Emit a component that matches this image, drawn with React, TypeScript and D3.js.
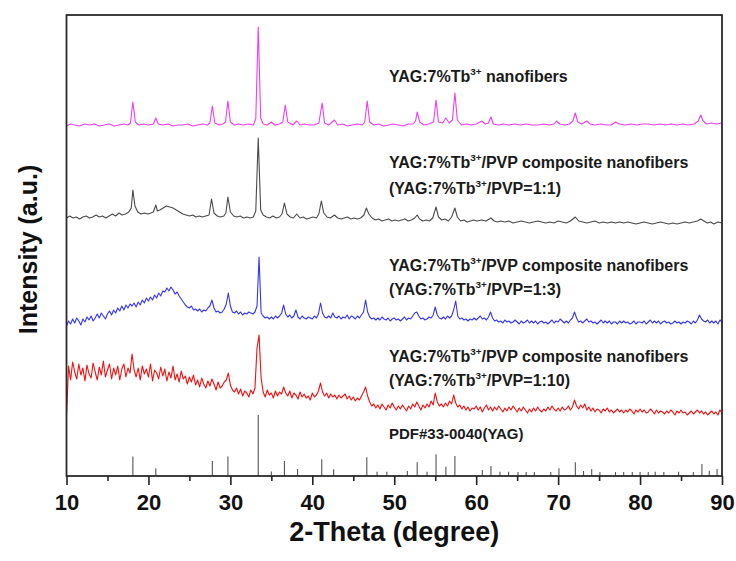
import { useEffect, useMemo, useRef } from 'react';
import * as d3 from 'd3';

// XRD patterns, stacked. Intensities are in arbitrary units, offsets already included.

const WIDTH = 736;
const HEIGHT = 561;
const MARGIN = { top: 15, right: 14, bottom: 85, left: 66.5 };
const FONT = "'Liberation Sans', Arial, Helvetica, sans-serif";

const X_DOMAIN = [10, 90];
const Y_DOMAIN = [0, 461];
const X_TICKS = [10, 20, 30, 40, 50, 60, 70, 80, 90];
const X_MINOR = [15, 25, 35, 45, 55, 65, 75, 85];

// YAG:7%Tb3+ nanofibers (magenta)
const yagFibers: [number, number][] = [
  [10, 350], [10.5, 352], [11, 351], [11.6, 350], [12.2, 352], [12.8, 351], [13.4, 352], [14, 350],
  [14.6, 351], [15.2, 352], [15.8, 350], [16.4, 351], [17, 352], [17.5, 351], [17.8, 353], [18.1, 374],
  [18.4, 354], [18.8, 351], [19.4, 352], [20, 351], [20.6, 352], [20.9, 358], [21.2, 352], [21.8, 351],
  [22.4, 352], [23, 350], [23.6, 351], [24.2, 351], [24.8, 352], [25.4, 350], [26, 351], [26.6, 352],
  [27.2, 351], [27.5, 353], [27.8, 370], [28.1, 353], [28.6, 351], [29.1, 352], [29.4, 354], [29.7, 375],
  [30, 354], [30.5, 351], [31, 352], [31.6, 351], [32.2, 352], [32.8, 351], [33.1, 357], [33.4, 449],
  [33.7, 358], [34, 352], [34.5, 351], [35, 354], [35.4, 351], [36, 352], [36.4, 354], [36.7, 371],
  [37, 354], [37.6, 351], [38.1, 355], [38.5, 351], [39, 352], [39.6, 351], [40.2, 351], [40.8, 353],
  [41.2, 373], [41.5, 353], [42, 351], [42.7, 356], [43.1, 351], [43.7, 352], [44.3, 350], [44.9, 351],
  [45.5, 352], [46.1, 351], [46.4, 354], [46.7, 375], [47, 354], [47.5, 351], [48.1, 352], [48.7, 350],
  [49.3, 351], [49.9, 352], [50.5, 351], [51.1, 350], [51.7, 352], [52.3, 352], [52.6, 355], [52.8, 364],
  [53.1, 354], [53.6, 351], [54.2, 352], [54.8, 354], [55.1, 376], [55.4, 354], [55.9, 353], [56.3, 358],
  [56.7, 353], [57.1, 356], [57.4, 383], [57.7, 356], [58.2, 351], [58.8, 352], [59.4, 351], [60, 352],
  [60.7, 355], [61.1, 352], [61.5, 353], [61.8, 359], [62.1, 352], [62.7, 351], [63.3, 352], [64, 351],
  [64.7, 352], [65.4, 351], [66.1, 352], [66.8, 351], [67.5, 351], [68.2, 352], [68.9, 351], [69.5, 352],
  [69.8, 355], [70.2, 352], [70.8, 351], [71.4, 352], [71.8, 355], [72.1, 363], [72.4, 354], [72.9, 352],
  [73.5, 355], [73.9, 352], [74.5, 351], [75.2, 352], [75.9, 351], [76.5, 351], [77, 354], [77.5, 352],
  [78.2, 351], [78.9, 352], [79.6, 351], [80.3, 352], [81, 352], [81.7, 351], [82.4, 352], [83.1, 351],
  [83.8, 352], [84.5, 351], [85.2, 352], [85.9, 351], [86.6, 352], [87.1, 355], [87.4, 361], [87.7, 355],
  [88.1, 352], [88.7, 353], [89.3, 352], [90, 353],
];

// YAG:7%Tb3+/PVP = 1:1 (gray)
const pvp1to1: [number, number][] = [
  [10, 258], [10.4, 260], [10.8, 258], [11.2, 259], [11.6, 257], [12, 259], [12.4, 260], [12.8, 258],
  [13.2, 259], [13.6, 261], [14, 259], [14.4, 260], [14.8, 258], [15.2, 260], [15.6, 262], [16, 260],
  [16.4, 263], [16.8, 261], [17.2, 262], [17.6, 264], [17.9, 268], [18.1, 286], [18.35, 270], [18.7, 264],
  [19.1, 262], [19.5, 263], [19.9, 262], [20.3, 263], [20.6, 264], [20.9, 271], [21.1, 265], [21.4, 266],
  [21.8, 268], [22.2, 270], [22.6, 269], [23, 268], [23.4, 266], [23.8, 264], [24.2, 262], [24.6, 261],
  [25, 260], [25.4, 261], [25.8, 259], [26.2, 260], [26.6, 259], [27, 260], [27.4, 261], [27.7, 277],
  [28, 263], [28.4, 260], [28.8, 259], [29.2, 260], [29.45, 263], [29.7, 279], [30, 264], [30.4, 260],
  [30.8, 259], [31.2, 260], [31.6, 258], [32, 259], [32.4, 258], [32.8, 259], [33.1, 265], [33.4, 338],
  [33.7, 266], [34, 261], [34.4, 259], [34.8, 258], [35.2, 260], [35.6, 258], [36, 259], [36.3, 262],
  [36.6, 273], [36.9, 262], [37.3, 259], [37.7, 258], [38.1, 262], [38.5, 258], [38.9, 259], [39.3, 257],
  [39.7, 258], [40.1, 259], [40.5, 258], [40.8, 262], [41.1, 275], [41.4, 263], [41.8, 259], [42.2, 258],
  [42.7, 261], [43.1, 258], [43.5, 257], [43.9, 258], [44.3, 259], [44.7, 257], [45.1, 258], [45.5, 257],
  [45.9, 258], [46.3, 261], [46.6, 268], [46.9, 262], [47.3, 258], [47.7, 256], [48.1, 257], [48.5, 255],
  [48.9, 256], [49.3, 257], [49.7, 255], [50.1, 256], [50.5, 255], [50.9, 256], [51.3, 257], [51.7, 255],
  [52.1, 256], [52.5, 258], [52.8, 261], [53.1, 257], [53.5, 255], [53.9, 256], [54.3, 255], [54.7, 258],
  [55.1, 269], [55.4, 259], [55.8, 256], [56.2, 257], [56.6, 255], [57, 259], [57.4, 268], [57.7, 259],
  [58.1, 255], [58.5, 256], [58.9, 254], [59.3, 255], [59.7, 256], [60.1, 255], [60.7, 256], [61.2, 255],
  [61.8, 258], [62.2, 255], [62.6, 254], [63, 255], [63.5, 254], [64, 255], [64.5, 253], [65, 254],
  [65.5, 255], [66, 254], [66.5, 253], [67, 254], [67.5, 255], [68, 254], [68.5, 253], [69, 254],
  [69.5, 253], [70, 255], [70.5, 254], [71, 253], [71.5, 255], [72.1, 259], [72.5, 255], [73, 254],
  [73.5, 253], [74, 254], [74.5, 255], [75, 253], [75.5, 254], [76, 253], [76.5, 254], [77, 253],
  [77.5, 254], [78, 253], [78.5, 254], [79, 253], [79.5, 252], [80, 253], [80.5, 254], [81, 253],
  [81.5, 252], [82, 253], [82.5, 254], [83, 253], [83.5, 252], [84, 253], [84.5, 252], [85, 253],
  [85.5, 254], [86, 253], [86.5, 254], [87, 255], [87.4, 257], [87.8, 255], [88.2, 253], [88.6, 254],
  [89, 252], [89.5, 254], [90, 253],
];

// the 1:3 and 1:10 scans were recorded on a 0.25 degree step, starting at 10
const SCAN_START = 10;
const SCAN_STEP = 0.25;

// YAG:7%Tb3+/PVP = 1:3 (blue)
const pvp1to3 = [
  150, 155, 152, 157, 153, 158, 155, 151, 157, 154, 159, 156, 160, 155, 158, 162,
  158, 163, 160, 157, 162, 165, 161, 166, 163, 168, 165, 170, 166, 171, 168, 172,
  170, 173, 169, 174, 171, 176, 173, 178, 175, 179, 176, 181, 178, 183, 180, 185,
  184, 188, 185, 189, 186, 182, 184, 180, 177, 174, 171, 169, 168, 170, 166, 167,
  165, 167, 164, 166, 165, 168, 170, 176, 168, 164, 165, 163, 164, 167, 172, 183,
  170, 164, 163, 165, 162, 164, 161, 163, 162, 164, 163, 162, 164, 170, 219, 163,
  160, 158, 159, 157, 159, 157, 160, 158, 160, 163, 171, 162, 159, 161, 158, 160,
  166, 159, 157, 160, 158, 157, 159, 158, 157, 160, 158, 162, 173, 163, 159, 158,
  160, 158, 163, 159, 158, 160, 157, 159, 158, 161, 157, 160, 159, 157, 160, 158,
  161, 164, 176, 164, 159, 157, 158, 156, 158, 156, 159, 157, 156, 158, 155, 157,
  158, 156, 157, 155, 157, 159, 156, 158, 157, 160, 163, 164, 160, 157, 158, 156,
  157, 159, 158, 161, 169, 161, 158, 157, 159, 157, 160, 158, 160, 166, 175, 160,
  157, 158, 156, 157, 155, 157, 156, 158, 156, 158, 160, 157, 158, 156, 159, 164,
  158, 155, 156, 154, 155, 153, 156, 154, 155, 153, 154, 156, 154, 152, 155, 153,
  154, 156, 153, 155, 153, 155, 152, 154, 155, 153, 154, 152, 154, 156, 153, 155,
  154, 157, 155, 153, 155, 153, 156, 158, 164, 158, 154, 155, 153, 155, 157, 154,
  155, 153, 154, 152, 154, 156, 153, 155, 153, 155, 152, 154, 154, 152, 155, 153,
  155, 153, 154, 152, 153, 155, 152, 154, 154, 153, 155, 152, 154, 156, 153, 155,
  153, 155, 152, 154, 155, 153, 154, 152, 153, 155, 153, 154, 152, 154, 153, 155,
  154, 152, 155, 153, 156, 161, 157, 155, 154, 156, 153, 155, 153, 155, 152, 156,
  154,
];

// YAG:7%Tb3+/PVP = 1:10 (red)
const pvp1to10 = [
  60, 110, 96, 114, 104, 97, 112, 101, 108, 95, 111, 102, 98, 113, 104, 96,
  109, 101, 115, 99, 106, 112, 97, 108, 101, 110, 96, 107, 112, 99, 108, 103,
  122, 106, 99, 108, 96, 110, 102, 107, 99, 112, 95, 106, 103, 97, 109, 100,
  107, 95, 104, 98, 110, 96, 102, 94, 105, 97, 100, 92, 99, 94, 101, 91,
  96, 89, 98, 92, 88, 95, 90, 97, 92, 86, 94, 88, 90, 94, 96, 103,
  91, 86, 84, 88, 82, 87, 80, 85, 83, 79, 86, 82, 88, 128, 141, 98,
  84, 79, 86, 81, 83, 78, 85, 80, 84, 82, 89, 83, 80, 85, 78, 83,
  81, 77, 84, 79, 82, 78, 80, 76, 83, 79, 81, 85, 93, 84, 80, 83,
  78, 82, 79, 81, 77, 81, 78, 80, 82, 77, 80, 76, 79, 75, 78, 76,
  80, 84, 89, 80, 74, 70, 72, 68, 71, 67, 72, 69, 66, 71, 68, 73,
  69, 66, 70, 67, 71, 68, 65, 70, 67, 72, 69, 74, 70, 66, 71, 68,
  72, 69, 75, 71, 83, 74, 70, 72, 69, 73, 70, 75, 72, 81, 73, 69,
  71, 67, 70, 66, 69, 65, 68, 67, 70, 66, 69, 64, 68, 71, 66, 69,
  65, 69, 66, 70, 67, 64, 68, 65, 69, 66, 70, 67, 64, 68, 65, 69,
  66, 63, 67, 64, 68, 65, 69, 66, 64, 67, 65, 69, 66, 70, 67, 65,
  68, 65, 69, 66, 67, 70, 66, 69, 76, 70, 67, 71, 68, 72, 66, 69,
  65, 68, 64, 67, 66, 63, 67, 65, 68, 64, 66, 63, 65, 67, 64, 66,
  63, 66, 64, 67, 65, 62, 66, 64, 67, 64, 66, 63, 64, 67, 65, 62,
  66, 63, 65, 64, 62, 65, 63, 66, 64, 61, 65, 63, 66, 63, 64, 61,
  63, 65, 62, 64, 66, 63, 65, 62, 64, 61, 63, 65, 62, 64, 61, 66,
  63,
];

// PDF#33-0040 reference lines: position (2θ) and relative height
const pdfPositions = [
  18.1, 20.9, 27.8, 29.7, 33.4, 35.0, 36.6, 38.2, 41.15, 42.6, 46.65, 47.9, 49.1, 51.6, 52.8, 54.0,
  55.1, 56.3, 57.4, 60.75, 61.8, 62.9, 63.95, 65.1, 66.1, 67.1, 69.1, 70.1, 72.1, 73.1, 74.1, 75.1,
  77.0, 78.0, 79.05, 80.0, 81.0, 81.85, 82.9, 84.7, 86.5, 87.55, 88.45, 89.4,
];
const pdfHeights = [
  19.5, 7.7, 15, 19.5, 61, 4.5, 15, 7, 16.7, 6.7, 18.7, 4.3, 4.3, 5, 13.7, 4.3,
  21.7, 9.3, 20, 6, 10, 4.3, 4.3, 4, 4, 4, 4, 7.7, 13.7, 5, 7, 4,
  4, 4, 4, 4, 4, 4.3, 4, 4.3, 4, 12, 5.3, 7,
];

const seriesColors = ['#f23cf2', '#4a4a4a', '#3535f5', '#f20f0f'];

const sampleLabels = [
  { main: 'YAG:7%Tb', tail: ' nanofibers', ratio: '' },
  { main: 'YAG:7%Tb', tail: '/PVP composite nanofibers', ratio: '1:1' },
  { main: 'YAG:7%Tb', tail: '/PVP composite nanofibers', ratio: '1:3' },
  { main: 'YAG:7%Tb', tail: '/PVP composite nanofibers', ratio: '1:10' },
];
const pdfLabel = 'PDF#33-0040(YAG)';
const xTitle = '2-Theta (degree)';
const yTitle = 'Intensity (a.u.)';

const onGrid = (values: number[]): [number, number][] =>
  values.map((v, i) => [SCAN_START + i * SCAN_STEP, v]);

// "YAG:7%Tb" + raised "3+" + rest of the line
function Formula({ x, y, head, tail, size }: { x: number; y: number; head: string; tail: string; size: number }) {
  const lift = size * 0.42;
  return (
    <text x={x} y={y}>
      {head}
      <tspan dy={-lift} fontSize={size * 0.62}>
        3+
      </tspan>
      <tspan dy={lift}>{tail}</tspan>
    </text>
  );
}

export default function App() {
  const majorRef = useRef<SVGGElement>(null);
  const minorRef = useRef<SVGGElement>(null);

  const innerBottom = HEIGHT - MARGIN.bottom;
  const innerRight = WIDTH - MARGIN.right;

  const x = useMemo(() => d3.scaleLinear().domain(X_DOMAIN).range([MARGIN.left, innerRight]), [innerRight]);
  const y = useMemo(() => d3.scaleLinear().domain(Y_DOMAIN).range([innerBottom, MARGIN.top]), [innerBottom]);

  const line = d3
    .line<[number, number]>()
    .x((d) => x(d[0]))
    .y((d) => y(d[1]));

  const series = [yagFibers, pvp1to1, onGrid(pvp1to3), onGrid(pvp1to10)];

  useEffect(() => {
    const major = d3.select(majorRef.current);
    major.call(d3.axisBottom(x).tickValues(X_TICKS).tickSize(9).tickPadding(9).tickFormat(d3.format('d')));
    major.select('.domain').remove();
    major.selectAll('line').attr('stroke', '#222').attr('stroke-width', 1.6);
    major
      .selectAll('text')
      .attr('font-family', FONT)
      .attr('font-size', 22)
      .attr('font-weight', 'bold')
      .attr('fill', '#111');

    const minor = d3.select(minorRef.current);
    minor.call(d3.axisBottom(x).tickValues(X_MINOR).tickSize(5).tickFormat(() => ''));
    minor.select('.domain').remove();
    minor.selectAll('line').attr('stroke', '#222').attr('stroke-width', 1.6);
  }, [x]);

  const labelX = 389;
  const labelSize = 16;
  const lineBaselines = [[82], [168, 194], [271, 295], [362, 386]];

  return (
    <svg
      width={WIDTH}
      height={HEIGHT}
      style={{ position: 'absolute', left: 0, top: 0, background: '#fff' }}
      fontFamily={FONT}
    >
      {series.map((s, i) => (
        <path key={i} d={line(s) ?? ''} fill="none" stroke={seriesColors[i]} strokeWidth={1.1} strokeLinejoin="round" />
      ))}

      {pdfPositions.map((p, i) => (
        <line key={p} x1={x(p)} x2={x(p)} y1={y(0)} y2={y(pdfHeights[i])} stroke="#555" strokeWidth={1.1} />
      ))}

      <rect
        x={MARGIN.left}
        y={MARGIN.top}
        width={innerRight - MARGIN.left}
        height={innerBottom - MARGIN.top}
        fill="none"
        stroke="#2a2a2a"
        strokeWidth={1.8}
      />
      <g ref={minorRef} transform={`translate(0,${innerBottom})`} />
      <g ref={majorRef} transform={`translate(0,${innerBottom})`} />

      {sampleLabels.map((l, i) => (
        <g key={i} fontSize={labelSize} fontWeight="bold" fill="#1a1a1a">
          <Formula x={labelX} y={lineBaselines[i][0]} head={l.main} tail={l.tail} size={labelSize} />
          {l.ratio && (
            <Formula
              x={labelX}
              y={lineBaselines[i][1]}
              head={`(${l.main}`}
              tail={`/PVP=${l.ratio})`}
              size={labelSize}
            />
          )}
        </g>
      ))}
      <text x={labelX} y={439} fontSize={15} fontWeight="bold" fill="#1a1a1a">
        {pdfLabel}
      </text>

      <text
        x={(MARGIN.left + innerRight) / 2}
        y={541}
        textAnchor="middle"
        fontSize={27}
        fontWeight="bold"
        fill="#111"
      >
        {xTitle}
      </text>
      <text
        transform={`translate(37,${(MARGIN.top + innerBottom) / 2 + 4}) rotate(-90)`}
        textAnchor="middle"
        fontSize={25}
        fontWeight="bold"
        fill="#111"
      >
        {yTitle}
      </text>
    </svg>
  );
}
